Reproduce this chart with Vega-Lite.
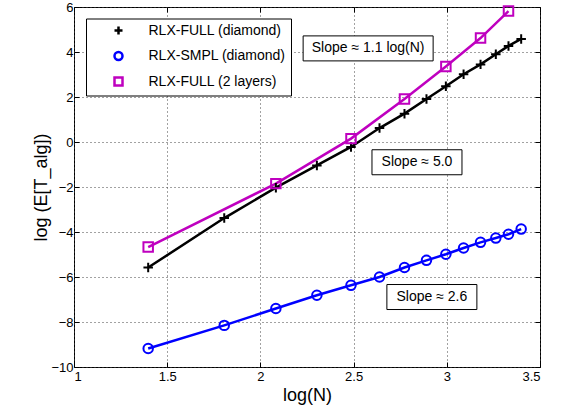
{
  "$schema": "https://vega.github.io/schema/vega-lite/v6.json",
  "width": 466,
  "height": 360,
  "autosize": {"type": "none"},
  "padding": {"left": 74, "top": 7, "right": 24, "bottom": 50},
  "background": "white",
  "config": {
    "font": "Liberation Sans",
    "view": {"stroke": "black", "strokeWidth": 1},
    "axis": {
      "labelFont": "Liberation Sans",
      "labelFontSize": 13,
      "labelColor": "black",
      "titleFont": "Liberation Sans",
      "titleFontWeight": "normal",
      "titleFontSize": 18,
      "titleColor": "black",
      "domain": false,
      "tickColor": "black",
      "tickSize": -5,
      "tickWidth": 1,
      "grid": true,
      "gridColor": "#444444",
      "gridDash": [1, 3],
      "gridWidth": 1
    },
    "legend": {
      "title": null,
      "orient": "none",
      "legendX": 12,
      "legendY": 11.5,
      "padding": 5,
      "strokeColor": "black",
      "fillColor": "white",
      "labelFont": "Liberation Sans",
      "labelFontSize": 14,
      "labelColor": "black",
      "labelLimit": 0,
      "symbolStrokeWidth": 2.5,
      "symbolSize": 64,
      "symbolOffset": 20.5,
      "labelOffset": 23,
      "rowPadding": 7.5
    }
  },
  "datasets": {
    "series": [
      {"series": "RLX-FULL (diamond)", "x": 1.398, "y": -5.58},
      {"series": "RLX-FULL (diamond)", "x": 1.806, "y": -3.38},
      {"series": "RLX-FULL (diamond)", "x": 2.083, "y": -2.03},
      {"series": "RLX-FULL (diamond)", "x": 2.303, "y": -1.04},
      {"series": "RLX-FULL (diamond)", "x": 2.486, "y": -0.22},
      {"series": "RLX-FULL (diamond)", "x": 2.639, "y": 0.62},
      {"series": "RLX-FULL (diamond)", "x": 2.773, "y": 1.26},
      {"series": "RLX-FULL (diamond)", "x": 2.891, "y": 1.91},
      {"series": "RLX-FULL (diamond)", "x": 2.995, "y": 2.48},
      {"series": "RLX-FULL (diamond)", "x": 3.09, "y": 3.01},
      {"series": "RLX-FULL (diamond)", "x": 3.181, "y": 3.45},
      {"series": "RLX-FULL (diamond)", "x": 3.263, "y": 3.9},
      {"series": "RLX-FULL (diamond)", "x": 3.331, "y": 4.27},
      {"series": "RLX-FULL (diamond)", "x": 3.399, "y": 4.58},
      {"series": "RLX-SMPL (diamond)", "x": 1.398, "y": -9.18},
      {"series": "RLX-SMPL (diamond)", "x": 1.806, "y": -8.15},
      {"series": "RLX-SMPL (diamond)", "x": 2.083, "y": -7.4},
      {"series": "RLX-SMPL (diamond)", "x": 2.303, "y": -6.81},
      {"series": "RLX-SMPL (diamond)", "x": 2.486, "y": -6.37},
      {"series": "RLX-SMPL (diamond)", "x": 2.639, "y": -6.0},
      {"series": "RLX-SMPL (diamond)", "x": 2.773, "y": -5.58},
      {"series": "RLX-SMPL (diamond)", "x": 2.891, "y": -5.26},
      {"series": "RLX-SMPL (diamond)", "x": 2.995, "y": -4.99},
      {"series": "RLX-SMPL (diamond)", "x": 3.09, "y": -4.71},
      {"series": "RLX-SMPL (diamond)", "x": 3.181, "y": -4.46},
      {"series": "RLX-SMPL (diamond)", "x": 3.263, "y": -4.27},
      {"series": "RLX-SMPL (diamond)", "x": 3.331, "y": -4.1},
      {"series": "RLX-SMPL (diamond)", "x": 3.399, "y": -3.87},
      {"series": "RLX-FULL (2 layers)", "x": 1.398, "y": -4.67},
      {"series": "RLX-FULL (2 layers)", "x": 2.083, "y": -1.85},
      {"series": "RLX-FULL (2 layers)", "x": 2.486, "y": 0.15},
      {"series": "RLX-FULL (2 layers)", "x": 2.773, "y": 1.91},
      {"series": "RLX-FULL (2 layers)", "x": 2.995, "y": 3.36},
      {"series": "RLX-FULL (2 layers)", "x": 3.181, "y": 4.62},
      {"series": "RLX-FULL (2 layers)", "x": 3.331, "y": 5.82}
    ],
    "notes": [
      {"label": "Slope ≈ 1.1 log(N)", "x": 2.578, "y": 4.16},
      {"label": "Slope ≈ 5.0", "x": 2.84, "y": -0.9},
      {"label": "Slope ≈ 2.6", "x": 2.92, "y": -6.89}
    ]
  },
  "resolve": {"axis": {"x": "independent", "y": "independent"}},
  "layer": [
    {
      "data": {"name": "series"},
      "mark": {"type": "line", "strokeWidth": 2.5},
      "encoding": {
        "x": {
          "field": "x", "type": "quantitative",
          "scale": {"domain": [1, 3.5], "nice": false, "zero": false},
          "axis": {"values": [1, 1.5, 2, 2.5, 3, 3.5], "format": ".2~f", "title": "log(N)", "labelPadding": 8, "titlePadding": 3}
        },
        "y": {
          "field": "y", "type": "quantitative",
          "scale": {"domain": [-10, 6], "nice": false, "zero": false},
          "axis": {"values": [-10, -8, -6, -4, -2, 0, 2, 4, 6], "format": "d", "title": "log (E[T_alg])", "labelPadding": 6, "titlePadding": 0}
        },
        "color": {
          "field": "series", "type": "nominal",
          "scale": {"domain": ["RLX-FULL (diamond)", "RLX-SMPL (diamond)", "RLX-FULL (2 layers)"], "range": ["#000000", "#0000ff", "#bf00bf"]}
        }
      }
    },
    {
      "data": {"name": "series"},
      "mark": {"type": "point", "filled": false, "strokeWidth": 2, "size": 90, "opacity": 1},
      "encoding": {
        "x": {"field": "x", "type": "quantitative", "axis": {"orient": "top", "values": [1, 1.5, 2, 2.5, 3, 3.5], "labels": false, "title": null, "grid": false}},
        "y": {"field": "y", "type": "quantitative", "axis": {"orient": "right", "values": [-10, -8, -6, -4, -2, 0, 2, 4, 6], "labels": false, "title": null, "grid": false}},
        "color": {
          "field": "series", "type": "nominal",
          "legend": {
            "encode": {
              "symbols": {
                "shape": {"value": {"signal": "datum.value === 'RLX-FULL (diamond)' ? 'M-5.625,0H5.625M0,-1.125V1.125' : (datum.value === 'RLX-SMPL (diamond)' ? 'M-5.625,0H5.625M1.125,0A1.125,1.125,0,1,1,-1.125,0A1.125,1.125,0,1,1,1.125,0' : 'M-5.625,0H5.625M-1.125,-1.125H1.125V1.125H-1.125Z')"}}
              }
            }
          }
        },
        "shape": {
          "field": "series", "type": "nominal",
          "scale": {"domain": ["RLX-FULL (diamond)", "RLX-SMPL (diamond)", "RLX-FULL (2 layers)"], "range": ["M-1,0H1M0,-1V1", "circle", "square"]},
          "legend": null
        }
      }
    },
    {
      "data": {"name": "notes"},
      "transform": [{"filter": "indexof(datum.label, 'log') >= 0"}],
      "mark": {"type": "point", "shape": "M-5.2,-1H5.2V1H-5.2Z", "size": 625, "filled": true, "fill": "white", "stroke": "black", "strokeWidth": 1, "opacity": 1},
      "encoding": {
        "x": {"field": "x", "type": "quantitative", "axis": null},
        "y": {"field": "y", "type": "quantitative", "axis": null}
      }
    },
    {
      "data": {"name": "notes"},
      "transform": [{"filter": "indexof(datum.label, 'log') < 0"}],
      "mark": {"type": "point", "shape": "M-3.6,-1H3.6V1H-3.6Z", "size": 625, "filled": true, "fill": "white", "stroke": "black", "strokeWidth": 1, "opacity": 1},
      "encoding": {
        "x": {"field": "x", "type": "quantitative", "axis": null},
        "y": {"field": "y", "type": "quantitative", "axis": null}
      }
    },
    {
      "data": {"name": "notes"},
      "mark": {"type": "text", "font": "Liberation Sans", "fontSize": 14, "align": "center", "baseline": "middle", "color": "black"},
      "encoding": {
        "x": {"field": "x", "type": "quantitative", "axis": null},
        "y": {"field": "y", "type": "quantitative", "axis": null},
        "text": {"field": "label"}
      }
    }
  ]
}
